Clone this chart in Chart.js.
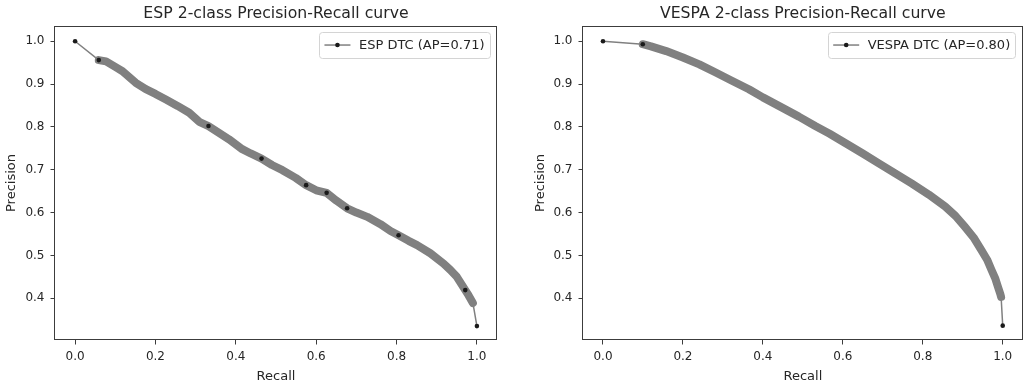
<!DOCTYPE html>
<html><head><meta charset="utf-8">
<script src="https://cdn.jsdelivr.net/npm/chart.js@4.4.1/dist/chart.umd.min.js"></script>
<style>
html,body{margin:0;padding:0;background:#fff;width:1025px;height:387px;overflow:hidden}
.wrap{position:absolute;top:0;height:387px}
#w1{left:0;width:512px}
#w2{left:512px;width:513px}
</style></head><body>
<div class="wrap" id="w1"><canvas id="c1"></canvas></div>
<div class="wrap" id="w2"><canvas id="c2"></canvas></div>
<script>
// ---- data ----
const espRecall    = [0, 0.059, 0.077, 0.1, 0.118, 0.151, 0.176, 0.2, 0.226, 0.255, 0.284, 0.309, 0.332, 0.36, 0.383, 0.416, 0.437, 0.464, 0.49, 0.516, 0.549, 0.575, 0.6, 0.626, 0.65, 0.677, 0.7, 0.727, 0.76, 0.785, 0.805, 0.83, 0.851, 0.884, 0.917, 0.934, 0.95, 0.971, 0.979, 0.99, 1.0];
const espPrecision = [1.0, 0.956, 0.953, 0.94, 0.93, 0.903, 0.888, 0.877, 0.864, 0.849, 0.833, 0.812, 0.802, 0.785, 0.771, 0.748, 0.738, 0.726, 0.711, 0.699, 0.681, 0.664, 0.652, 0.646, 0.628, 0.61, 0.6, 0.59, 0.573, 0.557, 0.547, 0.534, 0.524, 0.505, 0.481, 0.466, 0.45, 0.419, 0.407, 0.389, 0.335];
const espMarkerRecall = [0, 0.059, 0.332, 0.464, 0.575, 0.626, 0.677, 0.805, 0.971, 1.0];

const vespaRecall    = [0, 0.0996, 0.12, 0.158, 0.2, 0.241, 0.282, 0.32, 0.365, 0.4, 0.448, 0.49, 0.531, 0.567, 0.607, 0.65, 0.69, 0.73, 0.772, 0.815, 0.856, 0.882, 0.905, 0.927, 0.947, 0.961, 0.972, 0.981, 0.988, 0.994, 0.996, 1.0];
const vespaPrecision = [1.0, 0.993, 0.988, 0.977, 0.962, 0.946, 0.927, 0.909, 0.888, 0.869, 0.845, 0.824, 0.802, 0.784, 0.762, 0.738, 0.715, 0.692, 0.668, 0.642, 0.614, 0.592, 0.567, 0.542, 0.512, 0.49, 0.466, 0.447, 0.427, 0.41, 0.403, 0.336];
const vespaMarkerRecall = [0, 0.0996, 1.0];

const xTickValues = [0.0, 0.2, 0.4, 0.6, 0.8, 1.0];
const yTickValues = [0.4, 0.5, 0.6, 0.7, 0.8, 0.9, 1.0];

const FONT = 'DejaVu Sans';
const TXT = '#262626';
const SPINE = '#3c3c3c';

const mplPlugin = {
  id: 'mpl',
  afterDatasetsDraw(chart) {
    const {ctx, chartArea: a} = chart;
    ctx.save();
    // frame (spines)
    ctx.strokeStyle = SPINE; ctx.lineWidth = 1;
    ctx.strokeRect(Math.round(a.left) - 0.5, Math.round(a.top) + 0.5,
                   Math.round(a.right) - Math.round(a.left), Math.round(a.bottom) - Math.round(a.top) - 1);
    // legend
    const ds = chart.data.datasets[0];
    const fs = 13;
    ctx.font = fs + 'px "' + FONT + '"';
    const tw = ctx.measureText(ds.label).width;
    const pad = 5, hl = 26, htp = 8.5, bapR = 7.5, bapT = 6, h = 26;
    const right = a.right - bapR, top = a.top + bapT;
    const w = pad + hl + htp + tw + pad;
    const left = right - w;
    const r = 3;
    const L = Math.round(left) + 0.5, T = Math.round(top) + 0.5, R = Math.round(right) + 0.5, B = Math.round(top + h) + 0.5;
    ctx.beginPath();
    ctx.moveTo(L + r, T); ctx.lineTo(R - r, T); ctx.arcTo(R, T, R, T + r, r);
    ctx.lineTo(R, B - r); ctx.arcTo(R, B, R - r, B, r);
    ctx.lineTo(L + r, B); ctx.arcTo(L, B, L, B - r, r);
    ctx.lineTo(L, T + r); ctx.arcTo(L, T, L + r, T, r);
    ctx.closePath();
    ctx.fillStyle = 'rgba(255,255,255,0.8)'; ctx.fill();
    ctx.strokeStyle = '#d4d4d4'; ctx.lineWidth = 1; ctx.stroke();
    const cy = top + h / 2;
    ctx.strokeStyle = '#808080'; ctx.lineWidth = 1.5;
    ctx.beginPath(); ctx.moveTo(left + pad, cy); ctx.lineTo(left + pad + hl, cy); ctx.stroke();
    ctx.fillStyle = '#1a1a1a';
    ctx.beginPath(); ctx.arc(left + pad + hl / 2, cy, 2.3, 0, Math.PI * 2); ctx.fill();
    ctx.fillStyle = TXT; ctx.textBaseline = 'middle'; ctx.textAlign = 'left';
    ctx.fillText(ds.label, left + pad + hl + htp, cy + 0.5);
    ctx.restore();
  }
};

function makeChart(id, title, label, recall, precision, markers, yWidth, padRight, yTitlePad) {
  const n = recall.length;
  return new Chart(document.getElementById(id), {
    type: 'line',
    data: {
      datasets: [{
        label: label,
        data: recall.map((r, i) => ({x: r, y: precision[i]})),
        borderColor: '#808080',
        borderWidth: 8,
        borderCapStyle: 'round',
        borderJoinStyle: 'round',
        tension: 0,
        fill: false,
        segment: {
          borderWidth: c => (c.p0DataIndex === 0 || c.p1DataIndex === n - 1) ? 1.5 : 8
        },
        pointRadius: c => markers.includes(recall[c.dataIndex]) ? 2.3 : 0,
        pointHoverRadius: 0,
        pointBackgroundColor: '#1a1a1a',
        pointBorderWidth: 0
      }]
    },
    options: {
      responsive: true,
      maintainAspectRatio: false,
      animation: false,
      events: [],
      layout: {padding: {left: 0, right: padRight, top: 0, bottom: 0}},
      plugins: {
        legend: {display: false},
        tooltip: {enabled: false},
        title: {
          display: true, text: title, fullSize: false, color: TXT,
          font: {family: FONT, size: 15.7, weight: 'normal', lineHeight: 1.2},
          padding: {top: 4.5, bottom: 2.7}
        }
      },
      scales: {
        x: {
          type: 'linear', min: -0.05, max: 1.05,
          afterBuildTicks: s => { s.ticks = xTickValues.map(v => ({value: v})); },
          afterFit: s => { s.height = 47; },
          grid: {display: true, drawOnChartArea: false, drawTicks: true, tickLength: 4.5, tickColor: SPINE, lineWidth: 1},
          border: {display: false},
          ticks: {callback: v => v.toFixed(1), color: TXT, font: {family: FONT, size: 12}, padding: 5.5, maxRotation: 0, autoSkip: false},
          title: {display: true, text: 'Recall', color: TXT, font: {family: FONT, size: 13, lineHeight: 1.2}, padding: {top: 0, bottom: 2.5}}
        },
        y: {
          type: 'linear', min: 0.3025, max: 1.0355,
          afterBuildTicks: s => { s.ticks = yTickValues.map(v => ({value: v})); },
          afterFit: s => { s.width = yWidth; },
          grid: {display: true, drawOnChartArea: false, drawTicks: true, tickLength: 4.5, tickColor: SPINE, lineWidth: 1},
          border: {display: false},
          ticks: {callback: v => v.toFixed(1), color: TXT, font: {family: FONT, size: 12}, padding: 6, autoSkip: false},
          title: {display: true, text: 'Precision', color: TXT, font: {family: FONT, size: 13, lineHeight: 1.2}, padding: {top: yTitlePad, bottom: 0}}
        }
      }
    },
    plugins: [mplPlugin]
  });
}

makeChart('c1', 'ESP 2-class Precision-Recall curve', 'ESP DTC (AP=0.71)',
          espRecall, espPrecision, espMarkerRecall, 55, 15, 4.2);
makeChart('c2', 'VESPA 2-class Precision-Recall curve', 'VESPA DTC (AP=0.80)',
          vespaRecall, vespaPrecision, vespaMarkerRecall, 71, 1, 21.2);
</script>
</body></html>
